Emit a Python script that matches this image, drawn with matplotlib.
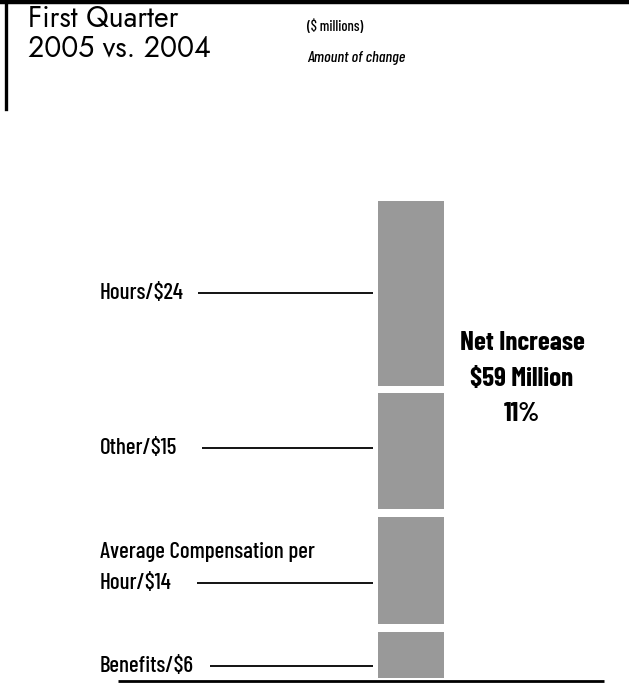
import matplotlib.pyplot as plt
from matplotlib.lines import Line2D

# Komponenten der Veränderung ($ Mio.), von unten nach oben gestapelt
kategorien = ["Benefits", "Average Compensation per\nHour", "Other", "Hours"]
werte = [6, 14, 15, 24]
gesamt_text = ["Net Increase", "$59 Million", "11%"]

# Layout (Pixel bei dpi=100)
B, H = 629, 694
balken_farbe = "#999999"
luecke = 1.0                      # weißer Abstand zwischen den Segmenten (Dateneinheiten)
linien_start = [210, 197, 202, 198]
linien_pos = [0.27, 0.38, 0.53, 0.50]   # Höhe der Hinweislinie im Segment
titel_font = ["Jost", "Lato", "DejaVu Sans"]
schmal = ["Barlow Condensed", "Oswald", "Roboto Condensed", "DejaVu Sans"]

fig = plt.figure(figsize=(B / 100, H / 100), dpi=100)
fig.patch.set_facecolor("white")

# Rahmen oben und links
fig.add_artist(Line2D([0, 1], [1 - 2 / H, 1 - 2 / H], color="black", lw=3.2,
                      transform=fig.transFigure))
fig.add_artist(Line2D([5.5 / B, 5.5 / B], [1, 1 - 109 / H], color="black", lw=2.4,
                      transform=fig.transFigure))

# Kopfzeile
fig.text(28 / B, 1 - 19 / H, "First Quarter", fontsize=20.5, family=titel_font,
         va="center", ha="left")
fig.text(28 / B, 1 - 48 / H, "2005 vs. 2004", fontsize=20.5, family=titel_font,
         va="center", ha="left")
fig.text(307 / B, 1 - 27 / H, "($ millions)", fontsize=10.5, family=schmal,
         fontweight="medium", va="center", ha="left")
fig.text(307 / B, 1 - 58 / H, "Amount of change", fontsize=11.5, family=schmal,
         fontweight="medium", style="italic", va="center", ha="left")

# Diagrammfläche: ganze Breite, vertikal von Balkenfuß bis Balkenoberkante
unten, oben = 681, 201
ax = fig.add_axes([0, 1 - unten / H, 1, (unten - oben) / H])
ax.set_xlim(0, B)
ax.set_ylim(-0.35, sum(werte) + luecke * (len(werte) - 1))
ax.axis("off")

balken_x, balken_b = 411, 66
basis = 0
for i, (kat, w) in enumerate(zip(kategorien, werte)):
    ax.bar(balken_x, w, width=balken_b, bottom=basis, color=balken_farbe,
           edgecolor="none")
    y = basis + w * linien_pos[i]
    ax.plot([linien_start[i], balken_x - balken_b / 2 - 5], [y, y],
            color="black", lw=1.3, solid_capstyle="butt")
    zeilen = f"{kat}/${w}".split("\n")
    # letzte Zeile sitzt auf der Hinweislinie, weitere Zeilen darüber
    for k, z in enumerate(reversed(zeilen)):
        ax.annotate(z, xy=(100, y), xytext=(0, 22.5 * k), textcoords="offset points",
                    ha="left", va="center", fontsize=16.5, family=schmal,
                    fontweight="medium")
    basis += w + luecke

# Grundlinie
ax.plot([118, 604], [-0.35, -0.35], color="black", lw=2, solid_capstyle="butt",
        clip_on=False)

# Gesamtveränderung rechts
for j, t in enumerate(gesamt_text):
    fig.text(522 / B, 1 - (343 + 35.5 * j) / H, t, fontsize=19.5, family=schmal,
             fontweight="bold", ha="center", va="center")

fig.savefig("out.png", dpi=100)
